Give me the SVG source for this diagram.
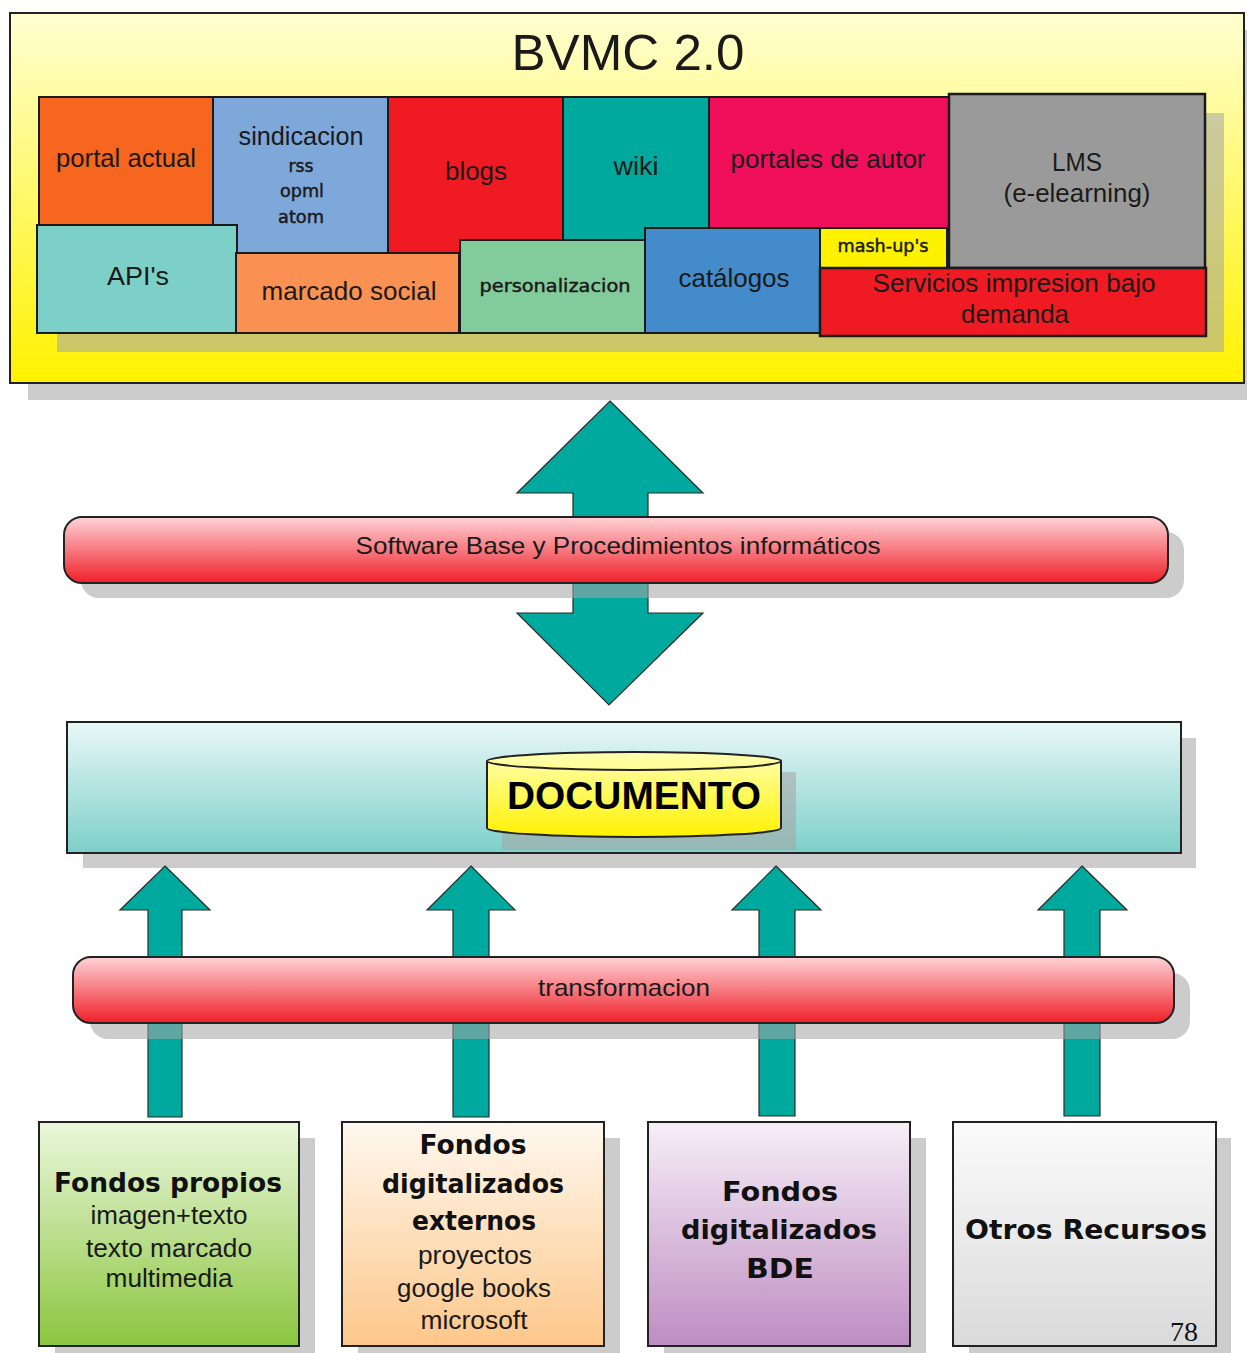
<svg xmlns="http://www.w3.org/2000/svg" width="1247" height="1353" viewBox="0 0 1247 1353">
<defs>
<linearGradient id="gYellow" x1="0" y1="0" x2="0" y2="1"><stop offset="0" stop-color="#FFFFD2"/><stop offset="1" stop-color="#FFF200"/></linearGradient>
<linearGradient id="gBar" x1="0" y1="0" x2="0" y2="1"><stop offset="0" stop-color="#FFD3D7"/><stop offset="1" stop-color="#EF1F28"/></linearGradient>
<linearGradient id="gDoc" x1="0" y1="0" x2="0" y2="1"><stop offset="0" stop-color="#E9F8F8"/><stop offset="1" stop-color="#7DCFC8"/></linearGradient>
<linearGradient id="gCyl" x1="0" y1="0" x2="0" y2="1"><stop offset="0" stop-color="#FFFFB4"/><stop offset="1" stop-color="#FFF200"/></linearGradient>
<linearGradient id="gGreen" x1="0" y1="0" x2="0" y2="1"><stop offset="0" stop-color="#EAF7DC"/><stop offset="1" stop-color="#8CC63F"/></linearGradient>
<linearGradient id="gPeach" x1="0" y1="0" x2="0" y2="1"><stop offset="0" stop-color="#FFF8EF"/><stop offset="1" stop-color="#FDC78A"/></linearGradient>
<linearGradient id="gPurple" x1="0" y1="0" x2="0" y2="1"><stop offset="0" stop-color="#F6EEF7"/><stop offset="1" stop-color="#BE8DC2"/></linearGradient>
<linearGradient id="gGray" x1="0" y1="0" x2="0" y2="1"><stop offset="0" stop-color="#FBFBFB"/><stop offset="1" stop-color="#DADADA"/></linearGradient>
</defs>
<style>
.sh{fill:#A6A6A6;fill-opacity:0.57}
.tile{stroke:#1a1a1a;stroke-width:2}
.t{font-family:"Liberation Sans",Arial,sans-serif;fill:#1a1a1a;text-anchor:middle}
.ts{font-family:"DejaVu Sans",sans-serif;fill:#1a1a1a;stroke:#1a1a1a;stroke-width:0.45;text-anchor:middle}
.tb{font-family:"DejaVu Sans",sans-serif;font-weight:bold;fill:#111;text-anchor:middle}
.arrow{fill:#00A99D;stroke:#2a2a2a;stroke-width:1.2}
.box{stroke:#222;stroke-width:2}
</style>

<g id="bvmc">
<rect x="28" y="30" width="1230" height="370" fill="#CCCCCC"/>
<rect x="10" y="13" width="1234" height="370" fill="url(#gYellow)" stroke="#222" stroke-width="2"/>
<text class="t" x="628" y="70" font-size="50" textLength="233" lengthAdjust="spacingAndGlyphs">BVMC 2.0</text>
<rect x="57" y="113" width="1167" height="239" class="sh"/>
</g>

<g id="portal-actual"><rect class="tile" x="39" y="97" width="174" height="128" fill="#F6661F"/><text class="t" x="126" y="167" font-size="25" textLength="140" lengthAdjust="spacingAndGlyphs">portal actual</text></g>
<g id="sindicacion"><rect class="tile" x="213" y="97" width="175" height="156" fill="#7EA7DA"/>
<text class="t" x="301" y="145" font-size="25" textLength="125" lengthAdjust="spacingAndGlyphs">sindicacion</text>
<text class="ts" x="301" y="172" font-size="17" textLength="25" lengthAdjust="spacingAndGlyphs">rss</text>
<text class="ts" x="302" y="197" font-size="17" textLength="44" lengthAdjust="spacingAndGlyphs">opml</text>
<text class="ts" x="301" y="223" font-size="17" textLength="46" lengthAdjust="spacingAndGlyphs">atom</text></g>
<g id="blogs"><rect class="tile" x="388" y="97" width="175" height="156" fill="#F01A22"/><text class="t" x="476" y="180" font-size="25" textLength="62" lengthAdjust="spacingAndGlyphs">blogs</text></g>
<g id="wiki"><rect class="tile" x="563" y="97" width="146" height="145" fill="#00A99D"/><text class="t" x="636" y="175" font-size="25" textLength="45" lengthAdjust="spacingAndGlyphs">wiki</text></g>
<g id="portales-de-autor"><rect class="tile" x="709" y="97" width="240" height="131" fill="#EF0F5A"/><text class="t" x="828" y="168" font-size="25" textLength="195" lengthAdjust="spacingAndGlyphs">portales de autor</text></g>
<g id="lms"><rect x="949" y="94" width="256" height="174" fill="#9A9A9A" stroke="#1a1a1a" stroke-width="2.5"/>
<text class="t" x="1077" y="171" font-size="25" textLength="50" lengthAdjust="spacingAndGlyphs">LMS</text>
<text class="t" x="1077" y="202" font-size="25" textLength="147" lengthAdjust="spacingAndGlyphs">(e-elearning)</text></g>
<g id="apis"><rect class="tile" x="37" y="225" width="200" height="108" fill="#7DD0C7"/><text class="t" x="138" y="285" font-size="25" textLength="62" lengthAdjust="spacingAndGlyphs">API's</text></g>
<g id="marcado-social"><rect class="tile" x="236" y="253" width="223" height="80" fill="#FA9152"/><text class="t" x="349" y="300" font-size="25" textLength="175" lengthAdjust="spacingAndGlyphs">marcado social</text></g>
<g id="personalizacion"><rect class="tile" x="460" y="240" width="185" height="93" fill="#82CC9B"/><text class="ts" x="555" y="292" font-size="17" textLength="151" lengthAdjust="spacingAndGlyphs">personalizacion</text></g>
<g id="catalogos"><rect class="tile" x="645" y="228" width="175" height="105" fill="#438BCB"/><text class="t" x="734" y="287" font-size="25" textLength="111" lengthAdjust="spacingAndGlyphs">catálogos</text></g>
<g id="mash-ups"><rect class="tile" x="820" y="228" width="127" height="40" fill="#FFF200"/><text class="ts" x="883" y="252" font-size="17" textLength="91" lengthAdjust="spacingAndGlyphs">mash-up's</text></g>
<g id="servicios-impresion"><rect x="820" y="268" width="386" height="68" fill="#F01A22" stroke="#1a1a1a" stroke-width="2.5"/>
<text class="t" x="1014" y="292" font-size="25" textLength="283" lengthAdjust="spacingAndGlyphs">Servicios impresion bajo</text>
<text class="t" x="1015" y="323" font-size="25" textLength="108" lengthAdjust="spacingAndGlyphs">demanda</text></g>

<g id="documento-layer">
<rect x="83" y="738" width="1113" height="130" fill="#CCCCCC"/>
<rect class="box" x="67" y="722" width="1114" height="131" fill="url(#gDoc)"/>
<g id="documento">
<path d="M502 772 L796 772 L796 850 L502 850 Z" class="sh"/>
<path d="M487 761 A147 9 0 0 1 781 761 L781 828 A147 9 0 0 1 487 828 Z" fill="url(#gCyl)" stroke="#222" stroke-width="2"/>
<path d="M487 761 A147 9 0 0 0 781 761" fill="none" stroke="#222" stroke-width="2"/>
<text x="634" y="809" font-family="'Liberation Sans',Arial,sans-serif" font-weight="bold" font-size="38" fill="#000" text-anchor="middle" textLength="254" lengthAdjust="spacingAndGlyphs">DOCUMENTO</text>
</g>
</g>

<g id="connectors">
<polygon class="arrow" points="610,401 703,493 648,493 648,613 703,613 609,705 517,613 573,613 573,493 517,493"/>
<polygon class="arrow" points="165,866 210,910 182,910 182,1117 148,1117 148,910 120,910"/>
<polygon class="arrow" points="471,866 515,910 489,910 489,1117 453,1117 453,910 427,910"/>
<polygon class="arrow" points="776,866 821,910 795,910 795,1116 759,1116 759,910 732,910"/>
<polygon class="arrow" points="1082,866 1127,910 1100,910 1100,1116 1064,1116 1064,910 1038,910"/>
</g>

<g id="software-base">
<rect x="81" y="532" width="1103" height="66" rx="18" class="sh"/>
<rect x="64" y="517" width="1104" height="66" rx="18" fill="url(#gBar)" stroke="#222" stroke-width="2"/>
<text class="t" x="618" y="554" font-size="24" textLength="525" lengthAdjust="spacingAndGlyphs">Software Base y Procedimientos informáticos</text>
</g>

<g id="transformacion">
<rect x="90" y="973" width="1100" height="66" rx="18" class="sh"/>
<rect x="73" y="957" width="1101" height="66" rx="18" fill="url(#gBar)" stroke="#222" stroke-width="2"/>
<text class="t" x="624" y="996" font-size="24" textLength="172" lengthAdjust="spacingAndGlyphs">transformacion</text>
</g>

<g id="fondos-propios">
<rect x="55" y="1138" width="260" height="224" fill="#CCCCCC"/>
<rect class="box" x="39" y="1122" width="260" height="224" fill="url(#gGreen)"/>
<text class="tb" x="168" y="1192" font-size="26" textLength="228" lengthAdjust="spacingAndGlyphs">Fondos propios</text>
<text class="t" x="169" y="1224" font-size="25" textLength="157" lengthAdjust="spacingAndGlyphs">imagen+texto</text>
<text class="t" x="169" y="1257" font-size="25" textLength="166" lengthAdjust="spacingAndGlyphs">texto marcado</text>
<text class="t" x="169" y="1287" font-size="25" textLength="127" lengthAdjust="spacingAndGlyphs">multimedia</text>
</g>

<g id="fondos-externos">
<rect x="358" y="1138" width="262" height="224" fill="#CCCCCC"/>
<rect class="box" x="342" y="1122" width="262" height="224" fill="url(#gPeach)"/>
<text class="tb" x="473" y="1154" font-size="26" textLength="107" lengthAdjust="spacingAndGlyphs">Fondos</text>
<text class="tb" x="473" y="1193" font-size="26" textLength="182" lengthAdjust="spacingAndGlyphs">digitalizados</text>
<text class="tb" x="474" y="1230" font-size="26" textLength="124" lengthAdjust="spacingAndGlyphs">externos</text>
<text class="t" x="475" y="1264" font-size="25" textLength="114" lengthAdjust="spacingAndGlyphs">proyectos</text>
<text class="t" x="474" y="1297" font-size="25" textLength="154" lengthAdjust="spacingAndGlyphs">google books</text>
<text class="t" x="474" y="1329" font-size="25" textLength="107" lengthAdjust="spacingAndGlyphs">microsoft</text>
</g>

<g id="fondos-bde">
<rect x="664" y="1138" width="262" height="224" fill="#CCCCCC"/>
<rect class="box" x="648" y="1122" width="262" height="224" fill="url(#gPurple)"/>
<text class="tb" x="780" y="1201" font-size="27" textLength="116" lengthAdjust="spacingAndGlyphs">Fondos</text>
<text class="tb" x="779" y="1239" font-size="27" textLength="196" lengthAdjust="spacingAndGlyphs">digitalizados</text>
<text class="tb" x="780" y="1278" font-size="27" textLength="68" lengthAdjust="spacingAndGlyphs">BDE</text>
</g>

<g id="otros-recursos">
<rect x="969" y="1138" width="262" height="224" fill="#CCCCCC"/>
<rect class="box" x="953" y="1122" width="263" height="224" fill="url(#gGray)"/>
<text class="tb" x="1086" y="1239" font-size="27" textLength="242" lengthAdjust="spacingAndGlyphs">Otros Recursos</text>
<text x="1184" y="1341" font-family="'Liberation Serif','Times New Roman',serif" font-size="28" fill="#111" text-anchor="middle">78</text>
</g>
</svg>
